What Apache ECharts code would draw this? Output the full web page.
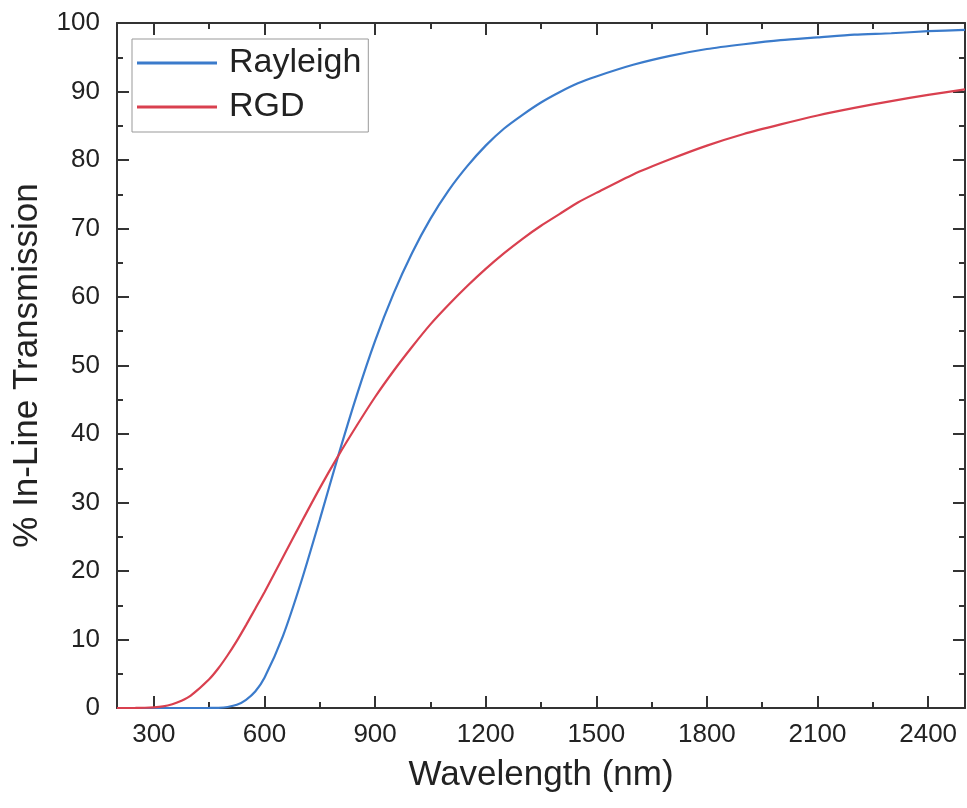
<!DOCTYPE html>
<html>
<head>
<meta charset="utf-8">
<script src="https://cdn.jsdelivr.net/npm/echarts@6/dist/echarts.min.js"></script>
<style>
html,body{margin:0;padding:0;background:#fff;}
#chart{width:967px;height:808px;}
</style>
</head>
<body>
<div id="chart"></div>
<script>
const wavelength = [200,250,300,325,350,375,400,450,475,500,525,550,575,600,650,700,750,800,850,900,950,1000,1050,1100,1150,1200,1250,1300,1350,1400,1450,1500,1600,1700,1800,1900,2000,2100,2200,2300,2400,2500];
const rayleigh = [0,0,0,0,0,0,0,0.01,0.03,0.15,0.46,1.2,2.4,4.4,10.5,18.5,27.5,36.8,45.6,53.6,60.5,66.4,71.4,75.6,79.1,82.1,84.6,86.6,88.4,89.9,91.2,92.2,93.9,95.2,96.2,96.9,97.5,97.9,98.3,98.5,98.8,99.0];
const rgd = [0,0.01,0.1,0.23,0.55,1.06,1.8,4.2,5.8,7.7,9.8,12.1,14.5,16.9,22.0,27.1,32.1,36.8,41.2,45.4,49.2,52.7,56.0,58.9,61.6,64.1,66.4,68.5,70.4,72.1,73.8,75.2,77.9,80.1,82.1,83.8,85.2,86.5,87.6,88.6,89.5,90.3];
const xMajorTicks = [300,600,900,1200,1500,1800,2100,2400];
const xMinorTicks = [450,750,1050,1350,1650,1950,2250];
const seriesNames = ['Rayleigh','RGD'];
const xTitle = 'Wavelength (nm)';
const yTitle = '% In-Line Transmission';

const FONT = 'Liberation Sans, Arial, sans-serif';
const AX = '#333';
const chart = echarts.init(document.getElementById('chart'));

function xAx(pos, major, showLine, showLabel, name) {
  return {
    type:'value', position:pos, min:200, max:2500,
    name: name || '', nameLocation:'middle', nameGap:50,
    nameTextStyle:{fontSize:35, fontFamily:FONT, color:'#222'},
    axisLine:{show:showLine, onZero:false, lineStyle:{color:AX, width:2}},
    axisTick:{show:true, inside:true, length: major?12:6, customValues: major?xMajorTicks:xMinorTicks, lineStyle:{color:AX, width:2}},
    axisLabel:{show:showLabel, customValues:xMajorTicks, formatter:(v)=>String(v), fontSize:26, fontFamily:FONT, color:'#222', margin:14},
    splitLine:{show:false}
  };
}
function yAx(pos, showLabel, name) {
  return {
    type:'value', position:pos, min:0, max:100, interval:10,
    name: name || '', nameLocation:'middle', nameGap:72,
    nameTextStyle:{fontSize:35, fontFamily:FONT, color:'#222'},
    axisLine:{show:true, onZero:false, lineStyle:{color:AX, width:2}},
    axisTick:{show:true, inside:true, length:12, lineStyle:{color:AX, width:2}},
    minorTick:{show:true, splitNumber:2, length:6, lineStyle:{color:AX, width:2}},
    axisLabel:{show:showLabel, fontSize:26, fontFamily:FONT, color:'#222', margin:17},
    splitLine:{show:false}, minorSplitLine:{show:false}
  };
}

chart.setOption({
  backgroundColor:'#fff',
  animation:false,
  grid:{left:117, right:2, top:23, bottom:100, containLabel:false},
  xAxis:[
    xAx('bottom', true, true, true, xTitle),
    xAx('bottom', false, false, false),
    xAx('top', true, true, false),
    xAx('top', false, false, false)
  ],
  yAxis:[
    yAx('left', true, yTitle),
    yAx('right', false)
  ],
  legend:{
    orient:'vertical', left:132, top:39,
    itemWidth:80, itemHeight:3, icon:'rect', itemGap:10,
    padding:[7,7,8,5], borderColor:'#999', borderWidth:1, backgroundColor:'#fff',
    textStyle:{fontSize:34, fontFamily:FONT, color:'#222', lineHeight:34, padding:[0,0,0,7]},
    data:seriesNames
  },
  series:[
    {name:seriesNames[0], type:'line', xAxisIndex:0, yAxisIndex:0, showSymbol:false, smooth:0.25,
     color:'#3b7bcb', lineStyle:{width:2.2, color:'#3b7bcb'},
     data: wavelength.map((w,i)=>[w, rayleigh[i]])},
    {name:seriesNames[1], type:'line', xAxisIndex:0, yAxisIndex:0, showSymbol:false, smooth:0.25,
     color:'#d9404f', lineStyle:{width:2.2, color:'#d9404f'},
     data: wavelength.map((w,i)=>[w, rgd[i]])}
  ]
});
</script>
</body>
</html>
